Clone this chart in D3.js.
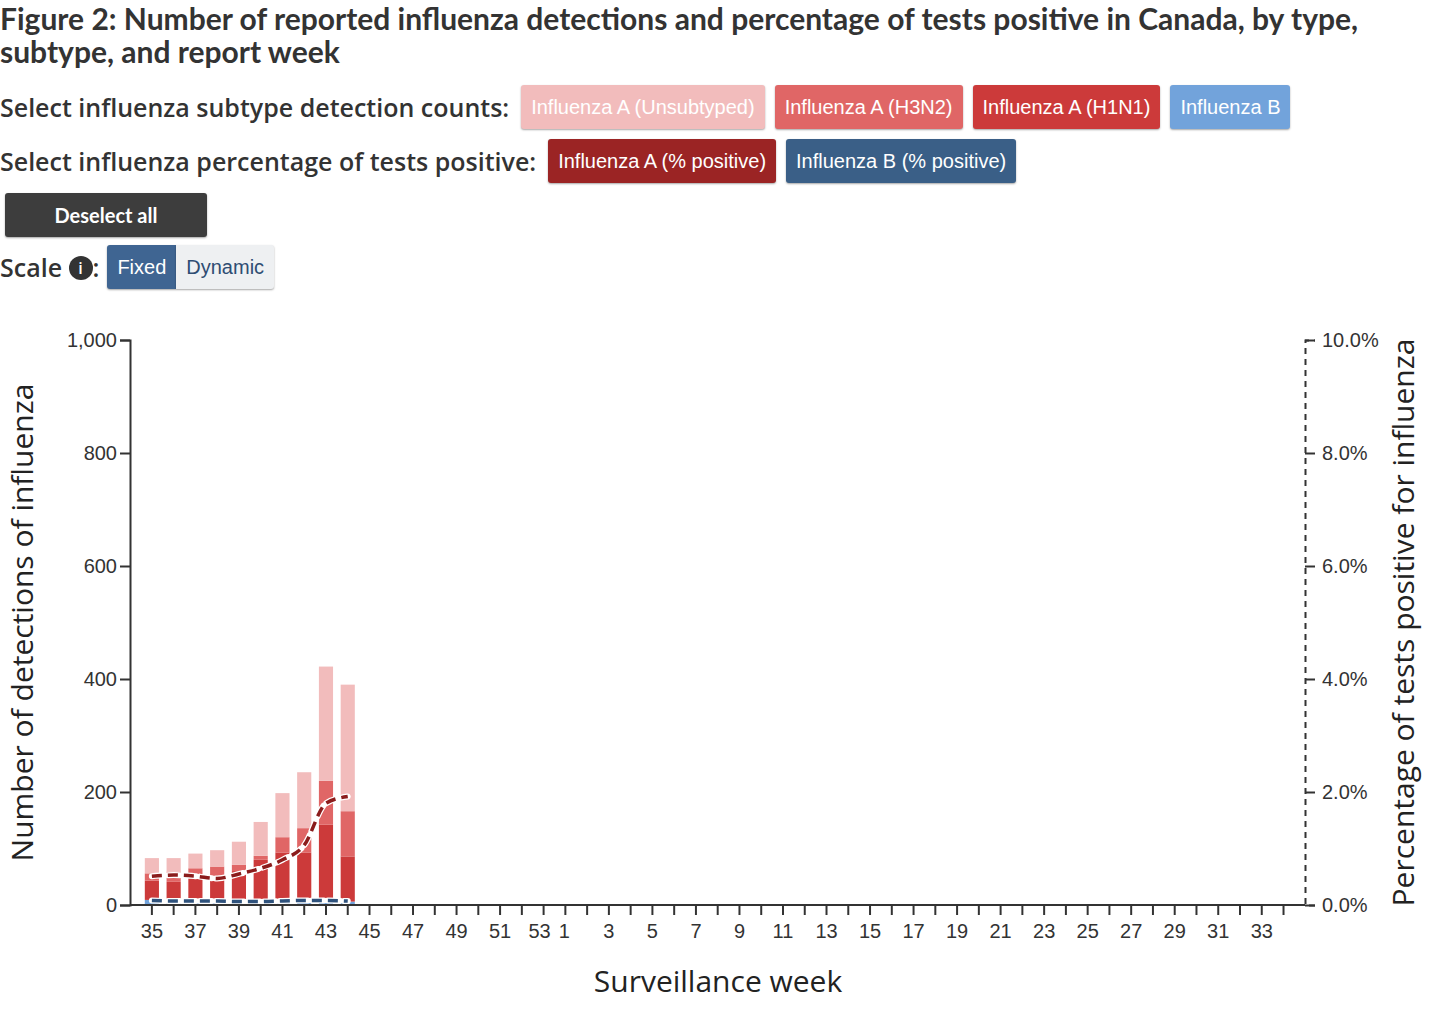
<!DOCTYPE html>
<html><head><meta charset="utf-8">
<script src="https://d3js.org/d3.v7.min.js"></script>
<style>
body{margin:0;background:#fff;font-family:Lato,sans-serif;color:#333;width:1456px;height:1012px;overflow:hidden}
h2{font-size:30px;font-weight:700;margin:0;padding:2px 60px 0 0;line-height:33px;color:#333}
.row{display:flex;align-items:center;height:54px}
.lbl{font-family:"Open Sans",sans-serif;font-size:25px;font-weight:600;margin-right:12px;color:#333}
.btn{font-family:"Liberation Sans",Arial,sans-serif;font-size:20px;color:#fff;border-radius:3px;padding:0 10px;height:44px;line-height:44px;margin-right:10px;box-shadow:0 1px 2px rgba(0,0,0,.35)}
</style></head><body>
<h2>Figure 2: Number of reported influenza detections and percentage of tests positive in Canada, by type, subtype, and report week</h2>
<div class="row" style="margin-top:12px"><span class="lbl">Select influenza subtype detection counts:</span>
<span class="btn" style="background:#f2bcbc">Influenza A (Unsubtyped)</span>
<span class="btn" style="background:#e06666">Influenza A (H3N2)</span>
<span class="btn" style="background:#cc3a3a">Influenza A (H1N1)</span>
<span class="btn" style="background:#72a3db">Influenza B</span></div>
<div class="row"><span class="lbl">Select influenza percentage of tests positive:</span>
<span class="btn" style="background:#9b2424">Influenza A (% positive)</span>
<span class="btn" style="background:#3a5f87">Influenza B (% positive)</span></div>
<div class="row"><span class="btn" style="background:#3d3d3d;font-family:Lato;font-weight:700;width:182px;text-align:center;margin-left:5px">Deselect all</span></div>
<div class="row" style="height:50px"><span class="lbl" style="margin-right:8px">Scale <span style="display:inline-block;width:24px;height:24px;border-radius:12px;background:#333;color:#fff;font-size:16px;line-height:24px;text-align:center;vertical-align:3px">i</span>:</span>
<span class="btn" style="background:#3f6592;margin-right:0;border-radius:3px 0 0 3px">Fixed</span>
<span class="btn" style="background:#eef0f2;color:#2e4d73;margin-right:0;border-radius:0 3px 3px 0">Dynamic</span></div>
<svg id="chart" width="1456" height="720" style="position:absolute;left:0;top:292px"></svg>
<script>
var weeks = d3.range(35,54).concat(d3.range(1,35));
var dataWeeks = [35,36,37,38,39,40,41,42,43,44];
var fluB = [9,7,7,7,6,6,7,7,7,6];
var h1n1 = [34,34,40,41,54,74,86,86,135,80];
var h3n2 = [13,18,18,20,11,7,27,43,78,80];
var unsub = [27,24,26,29,41,60,78,99,202,224];
var pctA = [0.51,0.53,0.51,0.47,0.55,0.65,0.80,1.06,1.80,1.92];
var pctB = [0.08,0.07,0.07,0.07,0.06,0.06,0.07,0.08,0.08,0.07];
var leftTicks = [0,200,400,600,800,1000];
var rightTicks = [0,2,4,6,8,10];

var svg = d3.select("#chart");
var top0 = 48, bottom0 = 613, L = 130, R = 1305;
var x = d3.scaleBand().domain(weeks).range([141,1294.4]).paddingInner(0.35).paddingOuter(0.175);
var y = d3.scaleLinear().domain([0,1000]).range([bottom0,top0]);
var y2 = d3.scaleLinear().domain([0,10]).range([bottom0,top0]);

var series = [["B",fluB,"#72a3db"],["H1N1",h1n1,"#cc3a3a"],["H3N2",h3n2,"#e06666"],["Un",unsub,"#f2bcbc"]];
var base = dataWeeks.map(function(){return 0});
series.forEach(function(s){
  dataWeeks.forEach(function(w,i){
    svg.append("rect").attr("x",x(w)).attr("width",x.bandwidth())
      .attr("y",y(base[i]+s[1][i])).attr("height",y(base[i])-y(base[i]+s[1][i])).attr("fill",s[2]);
    base[i]+=s[1][i];
  });
});

var lineA = d3.line().x(function(d,i){return x(dataWeeks[i])+x.bandwidth()/2}).y(function(d){return y2(d)}).curve(d3.curveMonotoneX);
[[pctA,"#8b1c1c"],[pctB,"#2f527c"]].forEach(function(p){
  svg.append("path").attr("d",lineA(p[0])).attr("fill","none").attr("stroke","#fff").attr("stroke-width",6).attr("stroke-dasharray","12,4").attr("stroke-linecap","round");
  svg.append("path").attr("d",lineA(p[0])).attr("fill","none").attr("stroke",p[1]).attr("stroke-width",3.5).attr("stroke-dasharray","10,6");
});

var gl = svg.append("g").attr("transform","translate("+L+",0)").call(d3.axisLeft(y).tickValues(leftTicks).tickSize(10).tickFormat(d3.format(",")));
var gr = svg.append("g").attr("transform","translate("+R+",0)").call(d3.axisRight(y2).tickValues(rightTicks).tickSize(10).tickFormat(function(d){return d.toFixed(1)+"%"}));
gr.select(".domain").attr("stroke-dasharray","6,5");
var gx = svg.append("g").attr("transform","translate(0,"+bottom0+")").call(d3.axisBottom(x).tickSize(10).tickFormat(function(d){return d%2==1?d:""}));
gx.select(".domain").attr("d","M"+L+",0H"+R);
[gl,gr,gx].forEach(function(g){
  g.selectAll("text").attr("font-family","'Liberation Sans',Arial,sans-serif").attr("font-size",20).attr("fill","#333");
  g.selectAll("line,path").attr("stroke","#333").attr("stroke-width",2);
});
gx.selectAll("text").attr("dy","1em");
gx.selectAll(".tick").filter(function(d){return d==53}).select("text").attr("dx","-4");
gx.selectAll(".tick").filter(function(d){return d==1}).select("text").attr("dx","-1");
gr.selectAll("text").attr("dx","4");

svg.append("text").attr("transform","translate(33,"+((top0+bottom0)/2)+") rotate(-90)").attr("text-anchor","middle")
  .attr("font-family","'Open Sans',sans-serif").attr("font-size",30).attr("fill","#222").text("Number of detections of influenza");
svg.append("text").attr("transform","translate(1414,"+((top0+bottom0)/2)+") rotate(-90)").attr("text-anchor","middle")
  .attr("font-family","'Open Sans',sans-serif").attr("font-size",30).attr("fill","#222").text("Percentage of tests positive for influenza");
svg.append("text").attr("x",718).attr("y",700).attr("text-anchor","middle")
  .attr("font-family","'Open Sans',sans-serif").attr("font-size",30).attr("fill","#222").text("Surveillance week");
</script></body></html>
